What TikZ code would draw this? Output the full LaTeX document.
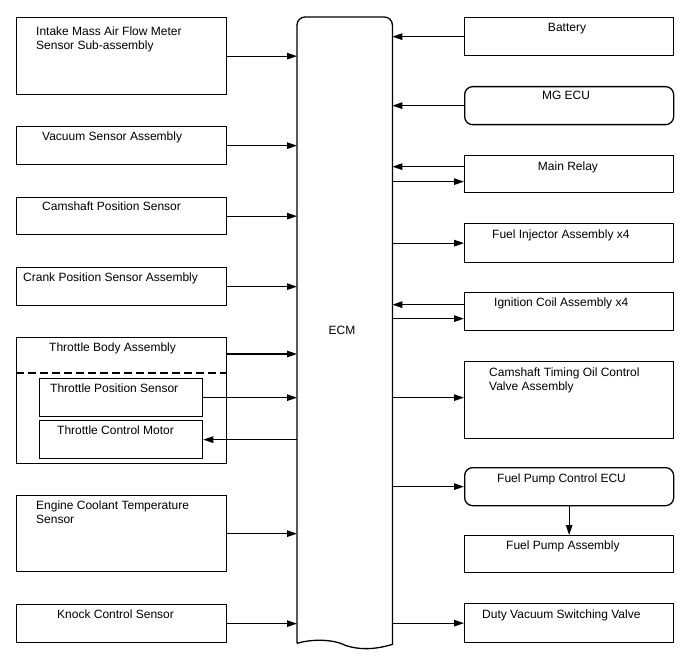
\documentclass[tikz,border=0pt]{standalone}
\usepackage{fontspec}
\setmainfont{Liberation Sans}
\usetikzlibrary{arrows.meta,calc}
\begin{document}
\begin{tikzpicture}[x=1pt,y=-1pt,
  box/.style={draw, line width=1.3pt, inner sep=0pt, anchor=north west, minimum width=210pt},
  rbox/.style={box, minimum width=209pt},
  rrbox/.style={rbox, rounded corners=8pt},
  arr/.style={line width=1.2pt, -{Triangle[length=10pt,width=6.5pt]}},
  lbl/.style={inner sep=0pt, font=\fontsize{12}{14}\selectfont},
  lw/.style={lbl, anchor=base west},
  lc/.style={lbl, anchor=base},
  lm/.style={lbl, anchor=north west, align=left}]
\useasboundingbox (0,0) rectangle (688,658);
% ECM
\node[draw=none, inner sep=0pt, anchor=north west, minimum width=95pt, minimum height=626pt] (ecm) at (297,17) {};
\draw[line width=1.3pt] (ecm.south west) [rounded corners=8pt] -- (ecm.north west) -- (ecm.north east) [sharp corners] -- ($(ecm.south east)+(0,1)$)
  .. controls ($(ecm.south east)+(-20,7)$) and ($(ecm.south east)+(-35,6)$) .. ($(ecm.south east)+(-47,2)$)
  .. controls ($(ecm.south west)+(35,-5)$) and ($(ecm.south west)+(12,-4)$) .. (ecm.south west);
\node[lc] (tecm) at (342,334) {ECM};
% left boxes
\node[box, minimum height=77pt] (imaf) at (16,17) {};
\node[box, minimum height=38pt] (vac) at (16,126) {};
\node[box, minimum height=37pt] (cam) at (16,197) {};
\node[box, minimum height=38pt] (crank) at (16,267) {};
\node[box, minimum height=126pt] (tba) at (16,337) {};
\node[box, minimum width=163pt, minimum height=38pt] (tps) at (39,378) {};
\node[box, minimum width=163pt, minimum height=38pt] (tcm) at (39,420) {};
\node[box, minimum height=76pt] (ect) at (16,495) {};
\node[box, minimum height=38pt] (knock) at (16,604) {};
\coordinate (dashl) at ($(tba.north west)+(0,36)$);
\coordinate (dashr) at ($(tba.north east)+(0,36)$);
\draw[line width=1.5pt, dash pattern=on 8pt off 4pt] (dashl) -- (dashr);
% right boxes
\node[rbox, minimum height=38pt] (bat) at (464,17) {};
\node[rrbox, minimum height=38pt] (mg) at (464,86) {};
\node[rbox, minimum height=37pt] (mr) at (464,155) {};
\node[rbox, minimum height=39pt] (fi) at (464,223) {};
\node[rbox, minimum height=38pt] (ign) at (464,292) {};
\node[rbox, minimum height=77pt] (ocv) at (464,361) {};
\node[rrbox, minimum height=38pt] (fpc) at (464,467) {};
\node[rbox, minimum height=37pt] (fpa) at (464,535) {};
\node[rbox, minimum height=39pt] (dvsv) at (464,603) {};
% labels
\node[lm] (timaf) at (36,26.5) {Intake Mass Air Flow Meter\\Sensor Sub-assembly};
\node[lw] (tvac) at (42,141) {Vacuum Sensor Assembly};
\node[lw] (tcam) at (42,210) {Camshaft Position Sensor};
\node[lw] (tcrank) at (23,281) {Crank Position Sensor Assembly};
\node[lw] (ttba) at (49,351.5) {Throttle Body Assembly};
\node[lw] (ttps) at (50,392) {Throttle Position Sensor};
\node[lw] (ttcm) at (57,434.5) {Throttle Control Motor};
\node[lm] (tect) at (36,500.5) {Engine Coolant Temperature\\Sensor};
\node[lw] (tknock) at (57,618) {Knock Control Sensor};
\node[lc] (tbat) at (567,31.5) {Battery};
\node[lc] (tmg) at (566,100) {MG ECU};
\node[lc] (tmr) at (568,170.5) {Main Relay};
\node[lw] (tfi) at (492,238) {Fuel Injector Assembly x4};
\node[lw] (tign) at (494,306.5) {Ignition Coil Assembly x4};
\node[lm] (tocv) at (489,367.5) {Camshaft Timing Oil Control\\Valve Assembly};
\node[lw] (tfpc) at (497,482.5) {Fuel Pump Control ECU};
\node[lw] (tfpa) at (506,549) {Fuel Pump Assembly};
\node[lw] (tdvsv) at (482,618) {Duty Vacuum Switching Valve};
% left connectors
\draw[arr] (imaf.east) -- (imaf.east -| ecm.west);
\draw[arr] (vac.east) -- (vac.east -| ecm.west);
\draw[arr] (cam.east) -- (cam.east -| ecm.west);
\draw[arr] (crank.east) -- (crank.east -| ecm.west);
\coordinate (tbaout) at ($(tba.north east)+(0,17)$);
\draw[arr] (tbaout) -- (tbaout -| ecm.west);
\draw[arr] (tps.east) -- (tps.east -| ecm.west);
\draw[arr] (tcm.east -| ecm.west) -- (tcm.east);
\draw[arr] (ect.east) -- (ect.east -| ecm.west);
\draw[arr] (knock.east) -- (knock.east -| ecm.west);
% right connectors
\draw[arr] (bat.west) -- (bat.west -| ecm.east);
\draw[arr] (mg.west) -- (mg.west -| ecm.east);
\coordinate (mrin) at ($(mr.west)+(0,-7.5)$);
\coordinate (mrout) at ($(mr.west)+(0,7.5)$);
\draw[arr] (mrin) -- (mrin -| ecm.east);
\draw[arr] (mrout -| ecm.east) -- (mrout);
\draw[arr] (fi.west -| ecm.east) -- (fi.west);
\coordinate (ignin) at ($(ign.west)+(0,-7)$);
\coordinate (ignout) at ($(ign.west)+(0,7)$);
\draw[arr] (ignin) -- (ignin -| ecm.east);
\draw[arr] (ignout -| ecm.east) -- (ignout);
\coordinate (ocvin) at ($(ocv.west)+(0,-2.5)$);
\draw[arr] (ocvin -| ecm.east) -- (ocvin);
\draw[arr] (fpc.west -| ecm.east) -- (fpc.west);
\draw[arr] (fpc.south) -- (fpa.north);
\draw[arr] (dvsv.west -| ecm.east) -- (dvsv.west);
\end{tikzpicture}
\end{document}
